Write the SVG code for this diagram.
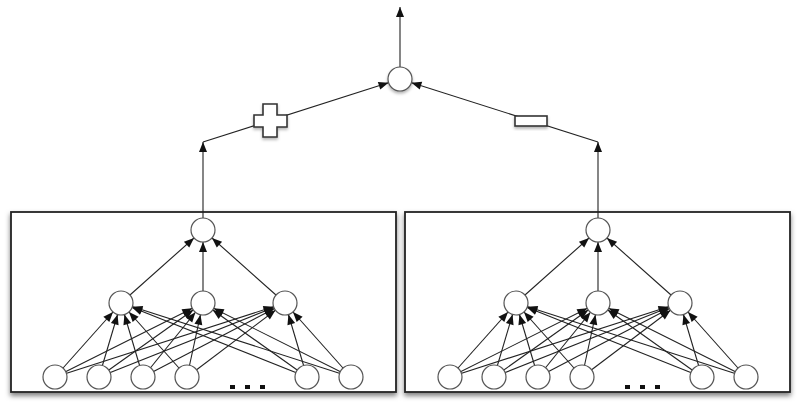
<svg xmlns="http://www.w3.org/2000/svg" width="800" height="406" viewBox="0 0 800 406">
<defs>
<marker id="ah" markerUnits="userSpaceOnUse" markerWidth="30" markerHeight="10" refX="22" refY="0" orient="auto" overflow="visible"><path d="M10,0 L0,-4 L0,4 z" fill="#111"/></marker>
<marker id="at" markerUnits="userSpaceOnUse" markerWidth="30" markerHeight="10" refX="10" refY="0" orient="auto" overflow="visible"><path d="M10,0 L0,-4 L0,4 z" fill="#111"/></marker>
<filter id="sh" x="-20%" y="-20%" width="140%" height="150%"><feDropShadow dx="0" dy="3" stdDeviation="2.5" flood-color="#000" flood-opacity="0.5"/></filter>
<filter id="csh" x="-50%" y="-50%" width="200%" height="200%"><feDropShadow dx="0" dy="2" stdDeviation="1.5" flood-color="#000" flood-opacity="0.3"/></filter>
</defs>
<style>
.box{fill:#fff;stroke:#222;stroke-width:1.8}
.n{fill:#fff;stroke:#555;stroke-width:1.2}
.e line{stroke:#222;stroke-width:1.1;fill:none}
.a{marker-end:url(#ah)}
.t{marker-end:url(#at)}
.sym{fill:#fff;stroke:#333;stroke-width:1.6}
.dot{fill:#111}
</style>
<rect id="box1" class="box" x="11" y="212" width="385" height="180" filter="url(#sh)"/>
<rect id="box2" class="box" x="405" y="212" width="385" height="180" filter="url(#sh)"/>
<g id="connectors" class="e">
<line class="a" x1="55" y1="377" x2="121" y2="303"/><line class="a" x1="55" y1="377" x2="203" y2="303"/><line class="a" x1="55" y1="377" x2="285" y2="303"/>
<line class="a" x1="99" y1="377" x2="121" y2="303"/><line class="a" x1="99" y1="377" x2="203" y2="303"/><line class="a" x1="99" y1="377" x2="285" y2="303"/>
<line class="a" x1="143" y1="377" x2="121" y2="303"/><line class="a" x1="143" y1="377" x2="203" y2="303"/><line class="a" x1="143" y1="377" x2="285" y2="303"/>
<line class="a" x1="187" y1="377" x2="121" y2="303"/><line class="a" x1="187" y1="377" x2="203" y2="303"/><line class="a" x1="187" y1="377" x2="285" y2="303"/>
<line class="a" x1="307" y1="377" x2="121" y2="303"/><line class="a" x1="307" y1="377" x2="203" y2="303"/><line class="a" x1="307" y1="377" x2="285" y2="303"/>
<line class="a" x1="351" y1="377" x2="121" y2="303"/><line class="a" x1="351" y1="377" x2="203" y2="303"/><line class="a" x1="351" y1="377" x2="285" y2="303"/>
<line class="a" x1="121" y1="303" x2="203" y2="230"/><line class="a" x1="203" y1="303" x2="203" y2="230"/><line class="a" x1="285" y1="303" x2="203" y2="230"/>
<line class="a" x1="450" y1="377" x2="516" y2="303"/><line class="a" x1="450" y1="377" x2="598" y2="303"/><line class="a" x1="450" y1="377" x2="680" y2="303"/>
<line class="a" x1="494" y1="377" x2="516" y2="303"/><line class="a" x1="494" y1="377" x2="598" y2="303"/><line class="a" x1="494" y1="377" x2="680" y2="303"/>
<line class="a" x1="538" y1="377" x2="516" y2="303"/><line class="a" x1="538" y1="377" x2="598" y2="303"/><line class="a" x1="538" y1="377" x2="680" y2="303"/>
<line class="a" x1="582" y1="377" x2="516" y2="303"/><line class="a" x1="582" y1="377" x2="598" y2="303"/><line class="a" x1="582" y1="377" x2="680" y2="303"/>
<line class="a" x1="702" y1="377" x2="516" y2="303"/><line class="a" x1="702" y1="377" x2="598" y2="303"/><line class="a" x1="702" y1="377" x2="680" y2="303"/>
<line class="a" x1="746" y1="377" x2="516" y2="303"/><line class="a" x1="746" y1="377" x2="598" y2="303"/><line class="a" x1="746" y1="377" x2="680" y2="303"/>
<line class="a" x1="516" y1="303" x2="598" y2="230"/><line class="a" x1="598" y1="303" x2="598" y2="230"/><line class="a" x1="680" y1="303" x2="598" y2="230"/>
<line class="t" x1="203" y1="230" x2="203" y2="142"/>
<line class="t" x1="598" y1="230" x2="598" y2="142"/>
<line class="a" x1="203" y1="142" x2="400" y2="79"/>
<line class="a" x1="598" y1="142" x2="400" y2="79"/>
<line class="t" x1="400" y1="79" x2="400" y2="7"/>
</g>
<g id="plus"><path class="sym" filter="url(#csh)" d="M263,104 H277 V115 H287 V127 H277 V137 H263 V127 H254 V115 H263 Z"/></g>
<g id="minus"><rect class="sym" filter="url(#csh)" x="515" y="116" width="32" height="10"/></g>
<g id="sum"><circle class="n" filter="url(#csh)" cx="400" cy="79" r="12"/></g>
<g id="L-top"><circle class="n" cx="203" cy="230" r="12"/></g>
<g id="L-m1"><circle class="n" cx="121" cy="303" r="12"/></g>
<g id="L-m2"><circle class="n" cx="203" cy="303" r="12"/></g>
<g id="L-m3"><circle class="n" cx="285" cy="303" r="12"/></g>
<g id="L-b1"><circle class="n" cx="55" cy="377" r="12"/></g>
<g id="L-b2"><circle class="n" cx="99" cy="377" r="12"/></g>
<g id="L-b3"><circle class="n" cx="143" cy="377" r="12"/></g>
<g id="L-b4"><circle class="n" cx="187" cy="377" r="12"/></g>
<g id="L-b5"><circle class="n" cx="307" cy="377" r="12"/></g>
<g id="L-b6"><circle class="n" cx="351" cy="377" r="12"/></g>
<g id="L-dots"><rect class="dot" x="230" y="385" width="5" height="4"/><rect class="dot" x="245" y="385" width="5" height="4"/><rect class="dot" x="260" y="385" width="5" height="4"/></g>
<g id="R-top"><circle class="n" cx="598" cy="230" r="12"/></g>
<g id="R-m1"><circle class="n" cx="516" cy="303" r="12"/></g>
<g id="R-m2"><circle class="n" cx="598" cy="303" r="12"/></g>
<g id="R-m3"><circle class="n" cx="680" cy="303" r="12"/></g>
<g id="R-b1"><circle class="n" cx="450" cy="377" r="12"/></g>
<g id="R-b2"><circle class="n" cx="494" cy="377" r="12"/></g>
<g id="R-b3"><circle class="n" cx="538" cy="377" r="12"/></g>
<g id="R-b4"><circle class="n" cx="582" cy="377" r="12"/></g>
<g id="R-b5"><circle class="n" cx="702" cy="377" r="12"/></g>
<g id="R-b6"><circle class="n" cx="746" cy="377" r="12"/></g>
<g id="R-dots"><rect class="dot" x="625" y="385" width="5" height="4"/><rect class="dot" x="640" y="385" width="5" height="4"/><rect class="dot" x="655" y="385" width="5" height="4"/></g>
</svg>
